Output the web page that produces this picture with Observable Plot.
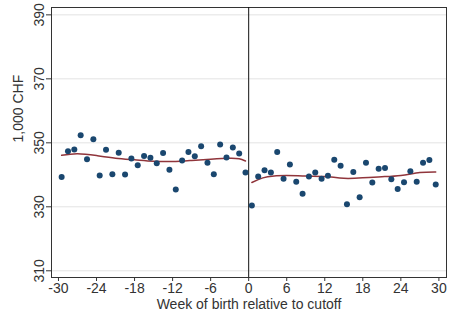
<!DOCTYPE html>
<html><head><meta charset="utf-8">
<script src="https://cdn.jsdelivr.net/npm/d3@7"></script>
<script src="https://cdn.jsdelivr.net/npm/@observablehq/plot@0.6"></script>
<style>html,body{margin:0;padding:0;background:#fff} svg{display:block}</style>
</head><body><div id="chart"></div>
<script>
const weeksLeft = [-29.5,-28.5,-27.5,-26.5,-25.5,-24.5,-23.5,-22.5,-21.5,-20.5,-19.5,-18.5,-17.5,-16.5,-15.5,-14.5,-13.5,-12.5,-11.5,-10.5,-9.5,-8.5,-7.5,-6.5,-5.5,-4.5,-3.5,-2.5,-1.5,-0.5];
const valuesLeft = [339.3,347.4,347.9,352.4,344.9,351.1,339.8,347.8,340.2,346.9,340.1,345.1,343.0,345.9,345.3,343.6,346.8,341.6,335.4,344.5,347.1,345.8,348.9,343.8,340.2,349.5,345.4,348.5,346.7,340.7];
const weeksRight = [0.5,1.5,2.5,3.5,4.5,5.5,6.5,7.5,8.5,9.5,10.5,11.5,12.5,13.5,14.5,15.5,16.5,17.5,18.5,19.5,20.5,21.5,22.5,23.5,24.5,25.5,26.5,27.5,28.5,29.5];
const valuesRight = [330.4,339.5,341.4,340.7,347.1,338.8,343.2,337.8,334.1,339.5,340.7,338.8,339.7,344.7,342.8,330.8,340.9,333.0,343.8,337.6,341.9,342.1,338.6,335.6,337.7,341.1,337.8,343.8,344.6,337.0];
const fitLeftX = [-29.5,-27,-24,-21,-18,-15,-12,-9,-6,-3,-1.5,-0.5];
const fitLeftY = [346.1,346.6,346.0,345.2,344.7,344.25,344.15,344.5,344.9,345.2,345.0,344.3];
const fitRightX = [0.5,1.5,3,6,9,12,15,18,21,24,27,29.5];
const fitRightY = [337.6,338.5,339.4,339.8,339.6,339.5,338.9,339.05,339.4,339.8,340.7,340.9];
const xTicks = [-30,-24,-18,-12,-6,0,6,12,18,24,30];
const yTicks = [310,330,350,370,390];

const zip = (xs, ys) => xs.map((x, i) => ({x, y: ys[i]}));
const left = zip(weeksLeft, valuesLeft);
const right = zip(weeksRight, valuesRight);
const fitL = zip(fitLeftX, fitLeftY);
const fitR = zip(fitRightX, fitRightY);

const chart = Plot.plot({
  width: 459, height: 316,
  marginLeft: 51, marginRight: 13, marginTop: 7, marginBottom: 39,
  style: {fontFamily: "'Liberation Sans', Arial, sans-serif", fontSize: "14px", color: "#333", background: "#fff"},
  x: {domain: [-31.1, 31.2]},
  y: {domain: [307.9, 392.3]},
  marks: [
    Plot.gridY(yTicks, {stroke: "#e3e3e3", strokeOpacity: 1, strokeWidth: 1}),
    Plot.frame({stroke: "#333", strokeWidth: 1}),
    Plot.ruleX([0], {stroke: "#111", strokeWidth: 1}),
    Plot.line(fitL, {x: "x", y: "y", stroke: "#90353b", strokeWidth: 1.5, curve: "natural"}),
    Plot.line(fitR, {x: "x", y: "y", stroke: "#90353b", strokeWidth: 1.5, curve: "natural"}),
    Plot.dot(left, {x: "x", y: "y", r: 3, fill: "#1a476f", stroke: null}),
    Plot.dot(right, {x: "x", y: "y", r: 3, fill: "#1a476f", stroke: null}),
    Plot.axisX(xTicks, {tickSize: 4, tickPadding: 2, tickFormat: d => String(d), label: null, stroke: "#333", fontSize: 14}),
    Plot.axisY(yTicks, {tickSize: 5, tickPadding: 3, tickRotate: -90, tickFormat: d => String(d), label: null, stroke: "#333", fontSize: 14}),
    Plot.text(["Week of birth relative to cutoff"], {frameAnchor: "bottom", lineAnchor: "middle", dy: 27, fontSize: 14, fill: "#333"}),
    Plot.text(["1,000 CHF"], {frameAnchor: "left", rotate: -90, dx: -33, fontSize: 14, fill: "#333"})
  ]
});
document.getElementById("chart").appendChild(chart);
</script>
</body></html>
